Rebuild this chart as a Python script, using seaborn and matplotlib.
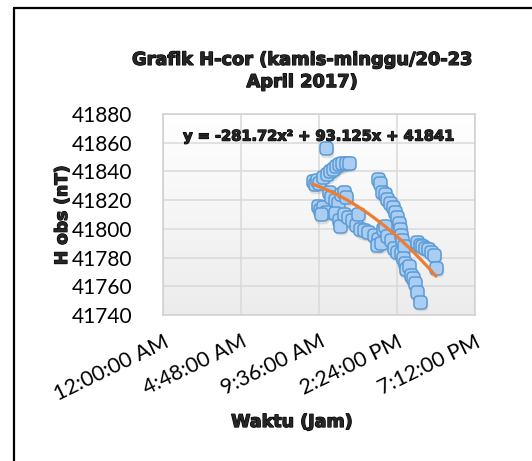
import numpy as np
import pandas as pd
import matplotlib
matplotlib.use("Agg")
import matplotlib.pyplot as plt
import matplotlib.patheffects as pe
from matplotlib.colors import LinearSegmentedColormap
from matplotlib.lines import Line2D
from matplotlib.patches import FancyBboxPatch
from matplotlib.path import Path
import seaborn as sns

# Time of day (fraction of a day) and H obs (nT)
waktu = [0.385, 0.390, 0.395, 0.400, 0.410, 0.420, 0.428, 0.436, 0.444, 0.452, 0.460, 0.468, 0.476,
         0.419,
         0.398, 0.402, 0.410, 0.418, 0.405,
         0.425, 0.432, 0.440, 0.448, 0.456, 0.464, 0.470, 0.440, 0.450, 0.455, 0.465, 0.475, 0.485,
         0.495, 0.505, 0.515, 0.500, 0.525, 0.540, 0.550, 0.548, 0.558, 0.565, 0.570, 0.575, 0.585,
         0.592, 0.600, 0.610,
         0.550, 0.556, 0.562, 0.568, 0.575, 0.582, 0.590, 0.595, 0.600, 0.605, 0.608, 0.610, 0.612, 0.618,
         0.615, 0.620, 0.622, 0.630, 0.635, 0.640, 0.645, 0.650, 0.660,
         0.650, 0.658, 0.665, 0.672, 0.680, 0.688, 0.695, 0.700]
h_obs = [41833, 41831, 41834, 41832, 41836, 41838, 41840, 41842, 41844, 41845, 41846, 41846, 41846,
         41856,
         41816, 41813, 41815, 41812, 41810,
         41826, 41822, 41820, 41818, 41824, 41826, 41822, 41811, 41806, 41802, 41810, 41808, 41806,
         41803, 41800, 41799, 41810, 41798, 41796, 41793, 41789, 41790, 41800, 41802, 41795, 41792,
         41787, 41784, 41783,
         41835, 41832, 41826, 41824, 41821, 41818, 41815, 41812, 41808, 41804, 41800, 41796, 41792, 41788,
         41780, 41776, 41772, 41774, 41768, 41766, 41762, 41756, 41749,
         41791, 41789, 41788, 41787, 41786, 41784, 41782, 41773]

x_ticks = [0.0, 0.2, 0.4, 0.6, 0.8]
x_tick_labels = ["12:00:00 AM", "4:48:00 AM", "9:36:00 AM", "2:24:00 PM", "7:12:00 PM"]
y_ticks = [41740, 41760, 41780, 41800, 41820, 41840, 41860, 41880]

title = "Grafik H-cor (kamis-minggu/20-23\nApril 2017)"
equation = "y = -281.72x² + 93.125x + 41841"

df = pd.DataFrame({"waktu": waktu, "h": h_obs})

sns.set_theme(style="white")
plt.rcParams["font.family"] = ["Lato", "DejaVu Sans"]

W, H = 532, 461
fig = plt.figure(figsize=(W / 100, H / 100), dpi=100)
fig.patch.set_facecolor("white")

# outer black frame (left and top visible)
fig.add_artist(Line2D([14 / W, 14 / W], [0, 1 - 8 / H], color="black", lw=1.6, transform=fig.transFigure))
fig.add_artist(Line2D([14 / W, 1.0], [1 - 8 / H, 1 - 8 / H], color="black", lw=1.6, transform=fig.transFigure))

ax = fig.add_axes([163 / W, 1 - 315 / H, (475 - 163) / W, (315 - 114) / H])

# gradient background (white top -> light gray bottom)
cmap = LinearSegmentedColormap.from_list("bg", ["#ececec", "#ffffff"])
grad = np.linspace(0, 1, 256).reshape(-1, 1)
ax.imshow(grad, extent=[0, 0.8, 41740, 41880], aspect="auto", cmap=cmap, zorder=-2, origin="lower")

# rounded-square marker
rs = FancyBboxPatch((-0.5, -0.5), 1, 1, boxstyle="round,pad=0,rounding_size=0.34").get_path()
rmarker = Path(rs.vertices.copy(), rs.codes)

# shadow
ax.scatter(np.array(waktu) + 0.0015, np.array(h_obs) - 1.6, s=95, marker=rmarker, color="#8a8a8a",
           alpha=0.22, linewidths=0, zorder=1)
sns.scatterplot(data=df, x="waktu", y="h", ax=ax, marker=rmarker, s=88, color="#a9cdf3",
                edgecolor="#5b9bd5", linewidth=1.1, zorder=2)
sns.regplot(data=df, x="waktu", y="h", ax=ax, order=2, ci=None, scatter=False, truncate=True,
            line_kws={"color": "#ed7d31", "lw": 2.3, "zorder": 3})

ax.set_xlim(0, 0.8)
ax.set_ylim(41740, 41880)
ax.set_xticks(x_ticks)
ax.set_xticklabels(x_tick_labels, rotation=26, ha="right", rotation_mode="anchor", fontsize=15.4)
ax.set_yticks(y_ticks)
ax.set_yticklabels([str(v) for v in y_ticks], fontsize=15)
ax.tick_params(axis="y", length=0, pad=22, colors="#000000")
ax.tick_params(axis="x", length=0, pad=12, colors="#000000")
ax.grid(True, color="#d9d9d9", lw=1.1)
ax.set_axisbelow(True)
for sp in ax.spines.values():
    sp.set_color("#d0d0d0")
    sp.set_linewidth(1.1)
ax.set_xlabel("")
ax.set_ylabel("")

heavy = dict(fontweight="bold", family=["DejaVu Sans"],
             path_effects=[pe.withStroke(linewidth=0.9, foreground="black")])
fig.text(302 / W, 1 - 71 / H, title, ha="center", va="center", fontsize=12.8, linespacing=1.3, **heavy)
fig.text(62 / W, 1 - 215 / H, "H obs (nT)", rotation=90, ha="center", va="center", fontsize=12.3, **heavy)
fig.text(292 / W, 1 - 422 / H, "Waktu (Jam)", ha="center", va="center", fontsize=12.6, **heavy)
ax.text(0.5, 0.89, equation, transform=ax.transAxes, ha="center", va="center", fontsize=10.5,
        zorder=5, **heavy)

fig.savefig("out.png", dpi=100)
